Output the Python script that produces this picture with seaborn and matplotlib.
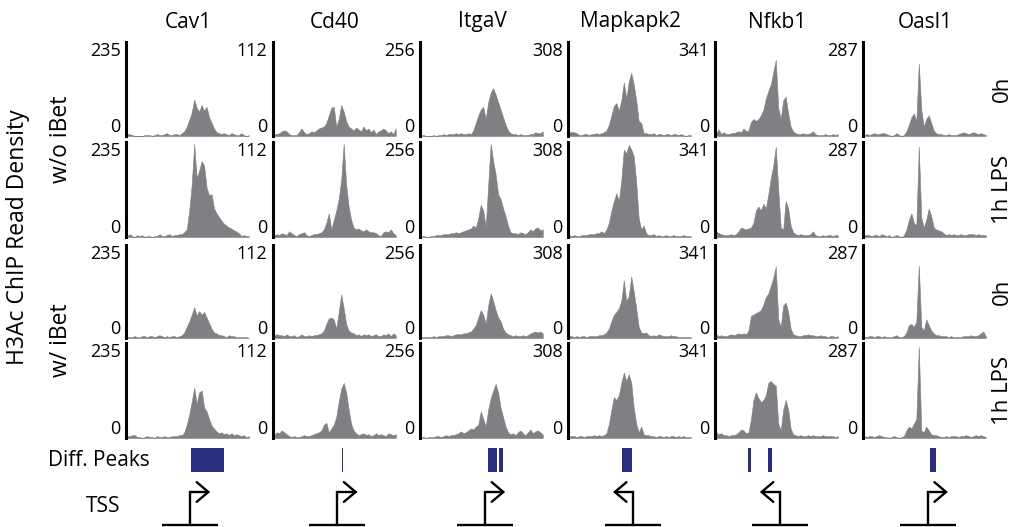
import numpy as np
import pandas as pd
import matplotlib
matplotlib.use("Agg")
import matplotlib.pyplot as plt
import seaborn as sns

# ---------------- data ----------------
genes = ["Cav1", "Cd40", "ItgaV", "Mapkapk2", "Nfkb1", "Oasl1"]
track_max = [235, 112, 256, 308, 341, 287]          # y-axis maximum (reads)
conditions = ["w/o iBet 0h", "w/o iBet 1h LPS", "w/ iBet 0h", "w/ iBet 1h LPS"]
n_bins = 50

# signal in percent of track maximum, 50 bins across each locus
cav1_r1 = [2,2,1,0,0,0,0,1,1,1,0,1,2,1,1,2,3,1,1,2,2,1,3,5,10,17,25,39,30,26,33,27,31,20,14,8,4,3,2,3,2,1,3,2,1,1,3,1,0,1]
cav1_r2 = [1,3,1,0,2,1,2,0,1,1,0,1,1,3,1,1,2,3,1,2,2,3,3,5,8,28,55,98,62,70,80,75,52,44,45,30,25,21,17,14,12,10,9,7,6,4,1,2,1,1]
cav1_r3 = [1,1,1,2,1,1,2,2,1,2,2,1,2,3,2,1,2,1,2,2,1,2,3,6,12,18,25,33,24,29,25,28,22,16,10,6,5,3,3,2,1,3,2,2,1,1,1,1,1,0]
cav1_r4 = [2,2,3,3,1,1,0,1,2,1,1,0,2,1,1,2,1,1,2,2,2,3,3,6,14,25,38,53,36,48,50,32,28,20,13,10,7,5,6,4,5,3,5,3,4,3,2,3,1,2]

cd40_r1 = [2,2,3,5,6,5,2,1,1,1,4,8,4,2,3,5,4,6,8,9,10,14,22,30,31,10,18,33,26,16,10,8,6,9,7,5,10,6,8,4,7,2,5,6,8,6,3,5,2,8]
cd40_r2 = [2,3,2,4,3,2,6,4,2,1,3,4,5,2,1,2,3,3,4,5,8,15,25,8,18,28,40,60,98,55,32,18,10,8,9,7,6,8,6,5,5,4,2,1,5,6,5,8,4,2]
cd40_r3 = [3,4,3,3,2,4,2,2,3,1,2,4,2,2,3,2,3,3,4,5,8,15,21,22,20,10,28,47,32,15,8,6,5,3,4,2,4,3,4,2,3,4,2,2,4,3,5,2,5,3]
cd40_r4 = [3,6,5,8,6,4,2,1,2,1,1,2,3,2,2,3,4,5,6,8,14,16,6,10,14,22,38,52,58,48,30,15,8,5,3,4,5,3,4,2,3,5,3,4,3,2,5,4,3,4]

itgav_r1 = [1,1,0,0,0,1,0,1,1,2,1,2,2,2,3,2,3,2,2,3,2,6,14,22,28,31,18,36,46,51,44,36,28,20,12,6,3,2,2,1,2,1,1,1,2,2,4,3,3,5]
itgav_r2 = [1,1,0,0,1,1,2,2,2,3,3,3,4,4,5,4,5,6,7,8,9,12,10,20,34,28,10,55,98,80,66,45,40,30,22,12,5,4,4,3,5,4,3,5,8,6,9,10,7,8]
itgav_r3 = [1,1,1,1,1,2,1,2,2,2,3,3,2,3,4,4,4,5,5,6,7,10,14,22,30,25,15,35,48,40,30,22,18,10,6,4,3,2,3,2,2,3,2,3,5,6,7,6,7,5]
itgav_r4 = [1,1,0,1,1,1,2,2,1,2,3,2,3,3,4,5,7,5,6,8,10,9,12,14,28,20,12,30,42,50,57,48,32,22,12,6,4,5,3,6,8,5,3,6,9,5,7,8,6,4]

mapk_r1 = [4,4,4,3,1,1,2,2,1,2,2,3,2,3,4,6,12,22,32,35,27,38,57,40,58,67,55,38,16,14,3,3,2,2,3,1,2,2,1,2,2,1,2,2,1,2,1,0,1,1]
mapk_r2 = [2,1,2,1,1,2,2,2,3,3,3,4,4,6,4,8,15,28,38,46,38,60,92,88,97,92,85,58,20,8,12,4,2,2,3,1,2,1,1,2,1,1,2,1,1,1,2,1,1,1]
mapk_r3 = [2,2,1,2,1,2,2,1,2,2,2,2,3,3,4,6,10,18,25,28,32,40,62,40,45,66,50,32,12,6,5,6,3,2,3,2,4,3,2,2,2,3,2,2,1,1,1,1,1,1]
mapk_r4 = [2,2,2,1,2,2,1,2,2,2,3,2,3,2,3,5,15,30,43,40,45,58,69,60,67,58,32,15,6,12,4,3,3,2,2,1,2,2,1,2,1,2,2,1,2,1,2,1,1,1]

nfkb1_r1 = [3,7,2,4,2,2,3,3,4,5,4,8,5,6,15,18,16,18,22,28,40,48,55,68,81,30,18,38,42,24,10,5,3,2,2,3,2,2,3,5,2,1,1,1,2,1,1,2,1,2]
nfkb1_r2 = [6,4,3,2,2,2,3,2,3,6,10,9,8,9,10,15,28,32,28,35,30,45,62,75,95,50,10,8,38,30,12,5,3,2,3,2,2,2,3,6,2,1,1,2,1,2,2,1,2,2]
nfkb1_r3 = [4,2,3,2,2,3,4,3,4,5,4,5,4,8,24,25,27,28,30,36,44,48,56,65,77,20,12,35,38,28,10,4,3,2,2,3,3,4,3,3,2,2,3,2,2,1,2,2,1,2]
nfkb1_r4 = [6,4,5,3,3,2,3,3,4,6,9,8,5,6,20,40,48,42,38,40,45,58,60,57,55,15,8,30,40,30,10,4,3,2,3,2,2,3,2,3,2,2,2,3,2,2,2,2,1,2]

oasl1_r1 = [1,2,1,2,3,2,2,3,3,2,1,0,1,3,1,0,1,5,12,20,24,16,77,28,10,18,22,14,6,3,2,2,1,1,2,1,1,1,2,3,4,3,2,3,4,3,2,3,2,1]
oasl1_r2 = [2,2,2,1,2,2,1,3,2,1,2,0,1,2,1,0,2,8,18,25,15,12,95,20,10,18,30,22,10,8,7,6,4,2,3,2,3,2,2,3,2,2,3,3,3,2,3,2,2,2]
oasl1_r3 = [1,1,2,2,1,2,2,1,2,1,1,1,2,3,1,1,2,6,14,15,12,18,78,12,8,20,14,8,5,3,3,2,2,2,1,2,1,1,1,1,2,2,2,3,2,2,3,5,7,2]
oasl1_r4 = [2,1,2,2,1,2,3,2,1,1,0,1,2,1,0,1,2,8,12,10,15,20,96,8,6,12,8,4,3,3,2,1,1,2,1,2,2,2,1,2,2,3,2,1,2,3,2,3,2,1]

tracks = {
    "Cav1": [cav1_r1, cav1_r2, cav1_r3, cav1_r4],
    "Cd40": [cd40_r1, cd40_r2, cd40_r3, cd40_r4],
    "ItgaV": [itgav_r1, itgav_r2, itgav_r3, itgav_r4],
    "Mapkapk2": [mapk_r1, mapk_r2, mapk_r3, mapk_r4],
    "Nfkb1": [nfkb1_r1, nfkb1_r2, nfkb1_r3, nfkb1_r4],
    "Oasl1": [oasl1_r1, oasl1_r2, oasl1_r3, oasl1_r4],
}

# differential peaks (start, end) in bin units
diff_peaks = {
    "Cav1": [(26.1, 39.5)],
    "Cd40": [(27.7, 28.3)],
    "ItgaV": [(27.3, 30.9), (31.8, 33.3)],
    "Mapkapk2": [(21.6, 25.7)],
    "Nfkb1": [(13.4, 14.4), (21.5, 22.9)],
    "Oasl1": [(27.0, 29.3)],
}
# TSS position (bin) and strand
tss_pos = [25.8, 25.9, 26.2, 26.3, 26.2, 26.1]
tss_strand = [1, 1, 1, -1, -1, 1]

row_labels_right = ["0h", "1h LPS", "0h", "1h LPS"]
group_labels = ["w/o iBet", "w/ iBet"]

# ---------------- style ----------------
sns.set_style("white")
plt.rcParams["font.family"] = ["Open Sans", "DejaVu Sans"]
plt.rcParams["text.color"] = "black"
plt.rcParams["ytick.color"] = "black"
plt.rcParams["ytick.labelcolor"] = "black"

W, H = 1015, 527
fig = plt.figure(figsize=(W / 100, H / 100), dpi=100)

def px_axes(x0, y0, x1, y1):
    return fig.add_axes([x0 / W, 1 - y1 / H, (x1 - x0) / W, (y1 - y0) / H])

col_left = [126, 273, 420, 568, 715, 863]
col_w = 124
rows_px = [(42, 136), (142, 237), (245, 338), (343, 438)]
gray = "#7f8083"
navy = "#2b2e7e"
label_fs = 15
side_fs = 16.5

centers = np.arange(n_bins) + 0.5

for c, gene in enumerate(genes):
    x0 = col_left[c]
    ymax = track_max[c]
    for r, (ya, yb) in enumerate(rows_px):
        ax = px_axes(x0, ya, x0 + col_w, yb)
        reads = np.array(tracks[gene][r], dtype=float) * ymax / 100.0
        df = pd.DataFrame({"pos": centers, "reads": reads})
        sns.histplot(data=df, x="pos", weights="reads", binwidth=1, binrange=(0, n_bins),
                     element="poly", fill=True, color=gray, alpha=1, linewidth=0.4,
                     edgecolor=gray, ax=ax)
        ax.set_xlim(0, n_bins)
        ax.set_ylim(0, ymax)
        ax.set_xlabel("")
        ax.set_ylabel("")
        ax.set_xticks([])
        ax.set_yticks([0, ymax])
        labels = ax.set_yticklabels(["0", str(ymax)], fontsize=13, color="black")
        labels[0].set_va("bottom")
        labels[1].set_va("top")
        ax.tick_params(axis="y", length=0, pad=4)
        for s in ["top", "right", "bottom"]:
            ax.spines[s].set_visible(False)
        ax.spines["left"].set_linewidth(2.2)
        ax.spines["left"].set_color("black")
        ax.patch.set_alpha(0)

    # differential peaks
    axd = px_axes(x0, 448, x0 + col_w, 472)
    for (s, e) in diff_peaks[gene]:
        axd.axvspan(s, e, color=navy, lw=0)
    axd.set_xlim(0, n_bins)
    axd.set_ylim(0, 1)
    axd.axis("off")

    # TSS symbol
    axt = px_axes(x0, 480, x0 + col_w, 527)
    axt.set_xlim(0, n_bins)
    axt.set_ylim(0, 1)
    axt.axis("off")
    p = tss_pos[c]
    d = tss_strand[c]
    lw = 1.7
    base_y, top_y = 0.04, 0.745
    axt.plot([p - 11.3, p + 11.3], [base_y, base_y], color="black", lw=lw, clip_on=False,
             solid_capstyle="butt")
    tip = p + d * 7.4
    axt.plot([p, p, tip], [base_y, top_y, top_y], color="black", lw=lw, clip_on=False,
             solid_joinstyle="miter")
    axt.plot([tip - d * 4.7, tip, tip - d * 4.7], [top_y + 0.21, top_y, top_y - 0.21],
             color="black", lw=lw, clip_on=False, solid_joinstyle="miter")

    # column title
    fig.text((x0 + col_w / 2) / W, 1 - 22 / H, gene, ha="center", va="center",
             fontsize=label_fs)

# left labels
fig.text(18 / W, 1 - 237 / H, "H3Ac ChIP Read Density", rotation=90, ha="center", va="center",
         fontsize=side_fs)
fig.text(61 / W, 1 - 139 / H, group_labels[0], rotation=90, ha="center", va="center",
         fontsize=side_fs)
fig.text(61 / W, 1 - 340 / H, group_labels[1], rotation=90, ha="center", va="center",
         fontsize=side_fs)

# right labels
for r, (ya, yb) in enumerate(rows_px):
    fig.text(1002 / W, 1 - ((ya + yb) / 2) / H, row_labels_right[r], rotation=90,
             ha="center", va="center", fontsize=16)

fig.text(48 / W, 1 - 460 / H, "Diff. Peaks", ha="left", va="center", fontsize=label_fs)
fig.text(86 / W, 1 - 506 / H, "TSS", ha="left", va="center", fontsize=label_fs)

fig.savefig("out.png", dpi=100)
